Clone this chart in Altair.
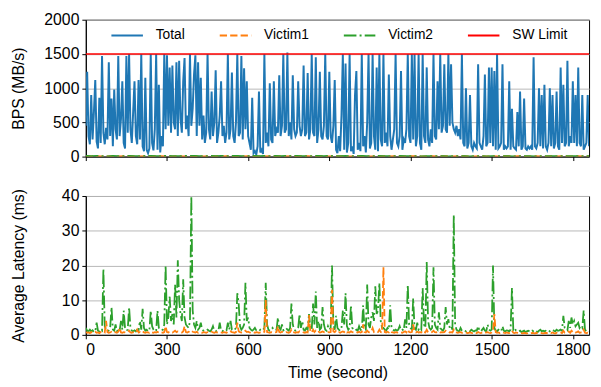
import altair as alt
import pandas as pd

STEP = 5          # seconds between samples of the main series
V_STEP = 20       # seconds between samples of the victims' BPS
X_MAX = 1860
SW_LIMIT = 1500

# Total BPS (MB/s), one value every 5 s
total_bps = [
    450, 1240, 300, 180, 900, 250, 650, 1120, 220, 120, 860, 200, 1470, 350, 180, 420, 250, 1380, 300, 850,
    150, 980, 400, 250, 1470, 300, 550, 1100, 200, 120, 1470, 350, 1500, 400, 200, 650, 1100, 300, 180, 1120,
    250, 1500, 150, 80, 1150, 100, 50, 120, 1500, 200, 90, 400, 1500, 100, 1050, 60, 300, 150, 1500, 400,
    1480, 450, 1300, 350, 1330, 500, 400, 1380, 300, 1400, 550, 350, 1100, 1440, 400, 600, 300, 1500, 450, 700,
    1200, 1480, 300, 1380, 450, 1150, 250, 600, 200, 350, 1500, 400, 250, 950, 300, 500, 1260, 200, 350, 600,
    1100, 300, 450, 200, 350, 1500, 250, 400, 1230, 300, 200, 500, 1500, 300, 350, 1470, 250, 1290, 400, 1100,
    300, 200, 100, 860, 50, 80, 30, 150, 950, 60, 100, 40, 1500, 200, 350, 150, 1070, 250, 200, 1100,
    300, 400, 350, 1190, 300, 450, 1500, 350, 400, 1520, 300, 500, 250, 1190, 400, 300, 350, 1100, 450, 300,
    400, 1330, 300, 350, 1220, 250, 400, 1500, 350, 300, 1450, 200, 400, 1240, 300, 250, 450, 1500, 300, 250,
    1240, 300, 200, 450, 1120, 100, 50, 300, 80, 600, 1500, 100, 1360, 60, 200, 1500, 80, 150, 40, 900,
    1250, 100, 200, 80, 1500, 150, 300, 60, 500, 1500, 120, 200, 1500, 300, 100, 1300, 80, 1500, 250, 150,
    1500, 200, 350, 150, 1200, 300, 100, 250, 400, 1500, 200, 150, 300, 1250, 100, 250, 200, 400, 1500, 300,
    200, 1500, 250, 1500, 150, 300, 1500, 200, 100, 1500, 300, 200, 1300, 250, 150, 400, 200, 1500, 300, 250,
    1100, 400, 1500, 350, 450, 1350, 400, 350, 1500, 450, 1350, 500, 400, 350, 450, 300, 400, 250, 1500, 200,
    150, 1000, 120, 200, 900, 150, 100, 200, 150, 120, 1350, 200, 150, 100, 300, 1200, 150, 200, 1300, 200,
    1300, 150, 1250, 100, 1500, 120, 150, 200, 1350, 100, 150, 120, 150, 1100, 100, 700, 150, 120, 100, 650,
    150, 950, 100, 150, 850, 120, 100, 150, 120, 150, 100, 1450, 150, 120, 200, 1000, 150, 900, 120, 1050,
    150, 100, 200, 1000, 150, 900, 120, 200, 950, 150, 100, 1300, 200, 1050, 150, 200, 1400, 150, 300, 200,
    1100, 200, 900, 150, 1300, 200, 150, 900, 100, 150, 200, 900, 150,
]

# Victim BPS (MB/s), one value every 20 s (they stay near zero)
victim1_bps = [
    6, 4, 8, 5, 3, 7, 4, 6, 9, 4, 5, 7, 4, 8, 6, 3, 5, 7, 4, 6,
    10, 5, 4, 7, 6, 4, 8, 5, 7, 4, 6, 9, 5, 3, 7, 4, 6, 5, 8, 4,
    6, 7, 4, 5, 7, 4, 8, 6, 5, 3, 6, 7, 4, 5, 8, 6, 4, 7, 5, 4,
    7, 6, 3, 5, 8, 4, 6, 5, 4, 7, 6, 4, 5, 7, 3, 6, 4, 5, 7, 4,
    6, 5, 4, 6, 3, 5, 7, 4, 6, 5, 4, 6, 5, 4,
]
victim2_bps = [
    9, 6, 11, 7, 5, 10, 8, 6, 12, 7, 6, 9, 11, 6, 8, 12, 7, 6, 9, 10,
    11, 8, 6, 9, 7, 12, 6, 9, 10, 7, 8, 11, 6, 9, 7, 9, 6, 10, 8, 11,
    7, 6, 9, 9, 7, 10, 6, 8, 11, 7, 6, 9, 7, 6, 9, 8, 6, 7, 9, 6,
    7, 6, 5, 8, 6, 6, 7, 5, 6, 8, 6, 5, 6, 7, 5, 6, 6, 8, 6, 5,
    7, 6, 6, 5, 7, 6, 8, 6, 7, 6, 6, 7, 6, 6,
]

# Average latency (ms), one value every 5 s
victim2_lat = [
    2, 1.2, 1, 1.5, 1, 1.3, 0.8, 1, 3.5, 1.2, 1, 1.5, 1.2, 19, 2.5, 1.5, 1, 1.3, 2, 8,
    1.5, 1.2, 3, 1, 1.5, 1.2, 4, 1.5, 7, 2, 1.2, 1.5, 8, 2, 1.2, 1, 1.3, 1, 1.5, 1.2,
    4, 1.5, 7.5, 2, 1.2, 1.5, 1, 1.3, 7, 2.5, 1.5, 1, 1.2, 7, 2, 1.5, 1.3, 1.5, 3, 20,
    3, 5, 11, 4, 6, 3, 14.5, 5, 21.5, 10, 6, 4, 16, 5, 3, 2.5, 2, 4, 40, 7,
    3, 2, 4, 1.5, 2, 3.5, 1.5, 1.2, 1, 1.3, 1.5, 1.2, 1, 1.5, 2.5, 1.2, 1, 1.3, 1.2, 3.5,
    1.2, 1, 1.5, 1.2, 1.3, 3.5, 1.5, 4, 1.5, 1.2, 1.5, 2, 12, 9, 2.5, 1.5, 2, 3, 15, 4,
    5, 2, 1.5, 1.2, 1.5, 2, 1.3, 1.2, 1, 1.5, 1.2, 1.5, 2, 15, 3, 1.5, 1.2, 1.3, 2, 1.5,
    1.2, 1.5, 5, 2, 1.5, 3, 1.3, 1.5, 2, 1.5, 1.2, 2, 9, 3, 1.5, 1.2, 1.5, 2, 6, 2,
    4, 1.5, 1.2, 2, 1.5, 6, 2, 1.5, 9, 3, 12.5, 2, 4, 1.5, 2, 8, 3, 1.5, 1.2, 2.5,
    1.5, 2, 20, 3, 1.5, 5.5, 2, 1.5, 1.2, 2, 7, 3, 12, 2.5, 1.5, 2, 8.5, 2, 1.5, 1.2,
    1.5, 1.2, 2.5, 1.5, 1.2, 8.5, 2, 1.5, 14.5, 3, 2, 5, 6.5, 4, 14, 6, 7, 15, 4, 2,
    2, 1.5, 1.2, 2, 1.5, 8.5, 2, 1.5, 1.2, 1.5, 1.2, 1.5, 2.5, 1.3, 1.5, 1.2, 4.5, 2, 14.5, 3,
    2, 1.5, 10.5, 2, 1.5, 3.5, 1.5, 2, 1.5, 13.5, 3, 2, 21, 4, 2, 1.5, 2, 19.5, 3, 2,
    1.5, 6.5, 2, 1.5, 1.2, 2, 8, 3, 4.5, 2, 2.5, 1.5, 34.5, 3, 1.5, 1.2, 1, 2, 1.2, 1,
    1.2, 1, 1.3, 1.2, 1, 1.5, 1.2, 1, 1.3, 1.2, 2.5, 1.2, 1, 1.5, 2, 1.2, 1, 3, 1.5, 1.2,
    1.5, 20, 2, 1.2, 1, 1.5, 1.2, 1, 2.5, 1.2, 1, 1.3, 1.2, 1, 1.5, 13.5, 1.5, 2, 1.2, 1,
    1, 1.2, 0.8, 1, 1.2, 0.8, 1, 1.2, 1, 0.8, 1.2, 1, 1.3, 1, 0.8, 1.2, 1.5, 1, 1.2, 1,
    1.2, 1, 1.3, 1, 1.2, 1.5, 1.2, 1, 1.5, 1.2, 1.3, 1.5, 1.2, 5.5, 2, 1.5, 1.3, 4, 2, 5,
    3, 4, 2.5, 3, 3.5, 2, 2.5, 2, 7, 1.5, 1, 1.2, 1,
]
victim1_lat = [
    0.8, 0.6, 0.7, 0.5, 0.8, 0.6, 0.7, 0.9, 0.6, 0.7, 0.5, 0.8, 0.6, 0.9, 0.7, 4, 0.8, 0.6, 0.7, 0.9,
    0.6, 0.7, 0.8, 0.6, 0.9, 2, 0.7, 0.6, 0.8, 0.7, 0.6, 0.8, 1.2, 0.7, 0.6, 0.8, 0.7, 0.6, 1.5, 0.7,
    0.8, 0.6, 1, 0.7, 0.6, 0.8, 0.7, 0.6, 0.9, 0.7, 0.6, 0.8, 0.7, 0.9, 0.6, 0.8, 0.7, 0.6, 0.8, 2.5,
    0.8, 0.7, 1, 0.8, 0.7, 0.9, 1.2, 0.8, 1, 0.9, 0.8, 0.7, 1, 2.5, 0.8, 0.7, 0.9, 0.8, 1.2, 0.9,
    0.8, 0.7, 0.9, 0.6, 0.8, 0.7, 0.6, 0.8, 0.7, 0.6, 0.8, 0.7, 0.6, 0.9, 0.7, 0.6, 0.8, 0.7, 0.6, 0.8,
    0.7, 0.6, 0.8, 0.7, 0.6, 0.9, 0.7, 1, 0.8, 0.7, 0.6, 0.8, 3.5, 1, 0.8, 0.7, 0.9, 0.8, 1.2, 0.8,
    0.9, 0.7, 0.6, 0.8, 0.7, 0.6, 0.8, 0.7, 0.6, 0.7, 0.8, 0.6, 0.9, 10, 0.8, 0.7, 0.6, 0.8, 0.7, 0.6,
    0.7, 0.8, 2.5, 0.8, 0.7, 0.9, 0.7, 0.6, 0.8, 0.7, 0.6, 0.8, 1.5, 0.8, 0.7, 0.6, 0.8, 0.7, 1, 0.8,
    0.9, 0.7, 0.6, 0.8, 0.7, 5.7, 0.8, 0.7, 1.5, 0.8, 1.2, 0.7, 0.9, 0.7, 0.8, 1, 0.8, 0.7, 0.6, 0.8,
    0.7, 0.8, 13, 1, 0.8, 1.2, 0.7, 0.8, 0.6, 0.8, 1, 0.8, 1.2, 0.7, 0.8, 0.7, 1, 0.8, 0.7, 0.6,
    0.8, 0.7, 0.9, 0.7, 0.8, 3, 0.8, 0.7, 1.2, 0.8, 0.7, 0.9, 2, 0.8, 1, 0.9, 0.8, 1.5, 0.8, 0.7,
    19.5, 0.8, 0.7, 0.9, 0.7, 1.2, 0.8, 0.7, 0.6, 0.8, 0.7, 0.6, 0.8, 0.7, 0.6, 0.8, 1, 0.7, 1.5, 0.8,
    0.7, 0.8, 3, 0.8, 0.7, 0.9, 0.7, 0.8, 0.7, 1.2, 0.8, 0.7, 1.5, 0.8, 0.7, 0.6, 0.8, 1.2, 0.8, 0.7,
    0.8, 1, 0.7, 0.8, 0.7, 0.8, 1.2, 0.8, 0.9, 0.7, 0.8, 0.7, 1.5, 0.8, 0.7, 0.6, 0.7, 0.8, 0.6, 0.7,
    0.6, 0.7, 0.5, 0.6, 0.7, 0.6, 0.5, 0.7, 0.6, 0.5, 0.8, 0.6, 0.5, 0.7, 0.6, 0.5, 0.7, 0.8, 0.6, 0.5,
    0.7, 1, 6, 0.8, 0.6, 0.7, 0.5, 0.6, 0.8, 0.6, 0.5, 0.7, 0.6, 0.5, 0.7, 1.2, 0.6, 0.5, 0.7, 0.6,
    0.5, 0.6, 0.5, 0.4, 0.6, 0.5, 0.4, 0.6, 0.5, 0.4, 0.6, 0.5, 0.4, 0.6, 0.5, 0.4, 0.6, 0.5, 0.4, 0.5,
    0.6, 0.5, 0.4, 0.6, 0.5, 0.7, 0.5, 0.4, 0.6, 0.5, 0.6, 0.7, 0.5, 1.2, 0.6, 0.5, 0.7, 1, 0.6, 1.2,
    0.8, 1, 0.7, 0.8, 1, 0.6, 0.7, 0.6, 1.5, 0.6, 0.5, 0.6, 0.5,
]

series = ["Total", "Victim1", "Victim2", "SW Limit"]
colors = ["#1f77b4", "#ff7f0e", "#2ca02c", "#ff0000"]
dashes = [[1, 0], [7.4, 3.2], [12.8, 3.2, 2, 3.2], [1, 0]]
x_ticks = [0, 300, 600, 900, 1200, 1500, 1800]

FONT = "Liberation Sans"


def frame(values, step, name):
    return pd.DataFrame({
        "t": [i * step for i in range(len(values))],
        "v": values,
        "series": name,
    })


df_total = frame(total_bps, STEP, "Total")
df_v1_bps = frame(victim1_bps, V_STEP, "Victim1")
df_v2_bps = frame(victim2_bps, V_STEP, "Victim2")
df_sw = pd.DataFrame({"t": [0, X_MAX], "v": [SW_LIMIT, SW_LIMIT], "series": "SW Limit"})
df_v1_lat = frame(victim1_lat, STEP, "Victim1")
df_v2_lat = frame(victim2_lat, STEP, "Victim2")

color_scale = alt.Scale(domain=series, range=colors)
dash_scale = alt.Scale(domain=series, range=dashes)

legend = alt.Legend(
    title=None, orient="none", legendX=25, legendY=-1, direction="horizontal",
    columns=4, symbolType="stroke", symbolSize=1024, symbolStrokeWidth=2,
    labelFontSize=14, labelFont=FONT, labelColor="black", labelOffset=12,
    columnPadding=31, padding=0,
)

W = 511
H_TOP, H_BOT = 139, 141

x_top = alt.X("t:Q", scale=alt.Scale(domain=[0, X_MAX], nice=False),
              axis=alt.Axis(values=x_ticks, labels=False, title=None, grid=False))
x_bot = alt.X("t:Q", scale=alt.Scale(domain=[0, X_MAX], nice=False),
              axis=alt.Axis(values=x_ticks, format="d", title="Time (second)",
                            grid=False, titlePadding=7))
y_top = alt.Y("v:Q", scale=alt.Scale(domain=[0, 2000], nice=False),
              axis=alt.Axis(values=[0, 500, 1000, 1500, 2000], format="d", title="BPS (MB/s)",
                            minExtent=43, maxExtent=43, titlePadding=17))
y_bot = alt.Y("v:Q", scale=alt.Scale(domain=[0, 40], nice=False),
              axis=alt.Axis(values=[0, 10, 20, 30, 40], format="d", title="Average Latency (ms)",
                            minExtent=43, maxExtent=43, titlePadding=17))


def top_layer(df, width):
    return alt.Chart(df).mark_line(strokeWidth=width, clip=True).encode(
        x=x_top, y=y_top,
        color=alt.Color("series:N", scale=color_scale, legend=legend),
        strokeDash=alt.StrokeDash("series:N", scale=dash_scale, legend=legend),
    )


def bot_layer(df, width):
    return alt.Chart(df).mark_line(strokeWidth=width, clip=True).encode(
        x=x_bot, y=y_bot,
        color=alt.Color("series:N", scale=color_scale, legend=None),
        strokeDash=alt.StrokeDash("series:N", scale=dash_scale, legend=None),
    )


top = alt.layer(
    top_layer(df_total, 2),
    top_layer(df_v1_bps, 1.8),
    top_layer(df_v2_bps, 1.8),
    top_layer(df_sw, 1.5),
).properties(width=W, height=H_TOP)

bottom = alt.layer(
    bot_layer(df_v2_lat, 1.8),
    bot_layer(df_v1_lat, 1.8),
).properties(width=W, height=H_BOT)

chart = alt.vconcat(top, bottom, spacing=22).resolve_scale(
    color="independent", strokeDash="independent"
).properties(
    padding={"left": 2, "top": 0, "right": 2, "bottom": 0}
).configure_view(
    stroke="black", strokeWidth=1
).configure_axis(
    domainColor="black", tickColor="black", tickSize=4, labelPadding=3,
    labelColor="black", titleColor="black", labelFont=FONT, titleFont=FONT,
    labelFontSize=16, titleFontSize=16, titleFontWeight="normal",
    gridColor="#b8b8b8", gridWidth=1,
)

chart.save("out.html", embed_options={"renderer": "svg", "actions": False})
